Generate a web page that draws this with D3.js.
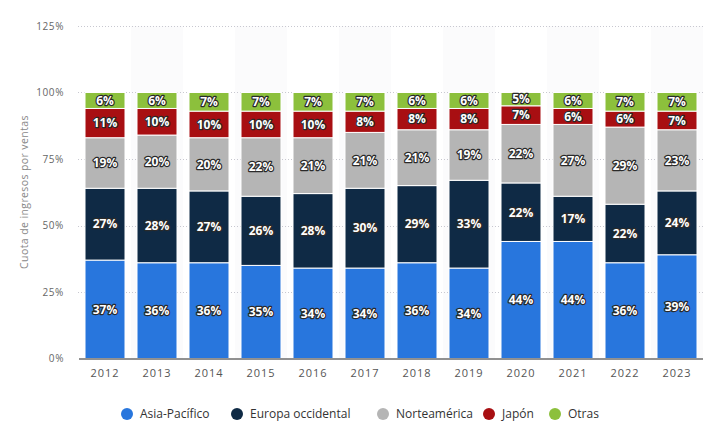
<!DOCTYPE html>
<html><head><meta charset="utf-8">
<script src="https://cdn.jsdelivr.net/npm/d3@7"></script>
<style>
body{margin:0;background:#fff;}
svg{display:block;font-family:"Open Sans","DejaVu Sans",sans-serif;}
</style></head><body>
<svg id="c" width="709" height="443"></svg>
<script>
const years = ["2012","2013","2014","2015","2016","2017","2018","2019","2020","2021","2022","2023"];
const seriesNames = ["Asia-Pacífico","Europa occidental","Norteamérica","Japón","Otras"];
const asiaPacifico = [37,36,36,35,34,34,36,34,44,44,36,39];
const europaOccidental = [27,28,27,26,28,30,29,33,22,17,22,24];
const norteamerica = [19,20,20,22,21,21,21,19,22,27,29,23];
const japon = [11,10,10,10,10,8,8,8,7,6,6,7];
const otras = [6,6,7,7,7,7,6,6,5,6,7,7];
const yTicks = [0,25,50,75,100,125];
const colors = ["#2876dd","#0f2a45","#b5b5b5","#a80f12","#8cc03c"];

const values = [asiaPacifico, europaOccidental, norteamerica, japon, otras];
const rows = years.map((y,i)=>{const r={year:y}; seriesNames.forEach((s,k)=>r[s]=values[k][i]); return r;});
const stack = d3.stack().keys(seriesNames)(rows);

const svg = d3.select("#c");
const x = d3.scaleBand().domain(years).range([79,703]).paddingInner(12/52).paddingOuter(6/52);
const y = d3.scaleLinear().domain([0,125]).range([358.5,26]);

// alternating column bands
svg.append("g").selectAll("rect").data(years.filter((d,i)=>i%2===1)).join("rect")
  .attr("x",d=>x(d)-x.step()*x.paddingInner()/2).attr("width",x.step())
  .attr("y",y(125)).attr("height",y(0)-y(125)).attr("fill","#fbfbfc");

// gridlines
svg.append("g").selectAll("line").data(yTicks.filter(d=>d>0)).join("line")
  .attr("x1",78).attr("x2",703).attr("y1",d=>Math.round(y(d))+0.5).attr("y2",d=>Math.round(y(d))+0.5)
  .attr("stroke","#c8c8d0").attr("stroke-dasharray","1,2");

// y axis labels
const ya = svg.append("g").attr("transform","translate(64,0)").call(d3.axisLeft(y).tickValues(yTicks).tickFormat(d=>d+"%").tickSize(0).tickPadding(0));
ya.select(".domain").remove();
ya.selectAll("text").attr("fill","#666").attr("font-size","10px").attr("letter-spacing","0.6px").attr("font-family","Open Sans, DejaVu Sans, sans-serif");

// bars
const g = svg.append("g");
stack.forEach((s,k)=>{
  g.append("g").selectAll("rect").data(s).join("rect")
    .attr("x",d=>x(d.data.year)).attr("width",x.bandwidth())
    .attr("y",d=>y(d[1])).attr("height",d=>y(d[0])-y(d[1]))
    .attr("fill",colors[k]).attr("stroke","#fff").attr("stroke-width",1);
});
// labels
stack.forEach((s,k)=>{
  g.append("g").selectAll("text").data(s).join("text")
    .attr("x",d=>x(d.data.year)+x.bandwidth()/2).attr("y",d=>y((d[0]+d[1])/2))
    .attr("dy","0.36em").attr("text-anchor","middle")
    .attr("font-size","12px").attr("font-weight","bold")
    .attr("fill","#fff").attr("stroke","#2a2a2a").attr("stroke-width",2.4).attr("stroke-linejoin","round")
    .attr("paint-order","stroke")
    .text(d=>(d[1]-d[0])+"%");
});

// x axis
const xa = svg.append("g").attr("transform",`translate(0,${y(0)})`).call(d3.axisBottom(x).tickSize(0).tickPadding(11));
xa.select(".domain").attr("stroke","#222").attr("d","M79,0.5H703");
xa.selectAll("text").attr("fill","#555").attr("font-size","11px").attr("letter-spacing","1px").attr("font-family","Open Sans, DejaVu Sans, sans-serif");

// y axis title
svg.append("text").attr("transform","translate(28,192) rotate(-90)").attr("text-anchor","middle")
  .attr("fill","#888").attr("font-size","10.5px").attr("letter-spacing","0.4px").text("Cuota de ingresos por ventas");

// legend
const legX = [127,237,383,489,555];
const leg = svg.append("g").selectAll("g").data(seriesNames).join("g").attr("transform",(d,i)=>`translate(${legX[i]},414)`);
leg.append("circle").attr("r",6).attr("fill",(d,i)=>colors[i]);
leg.append("text").attr("x",13).attr("dy","0.35em").attr("font-size","12px").attr("fill","#333").text(d=>d);
</script></body></html>
